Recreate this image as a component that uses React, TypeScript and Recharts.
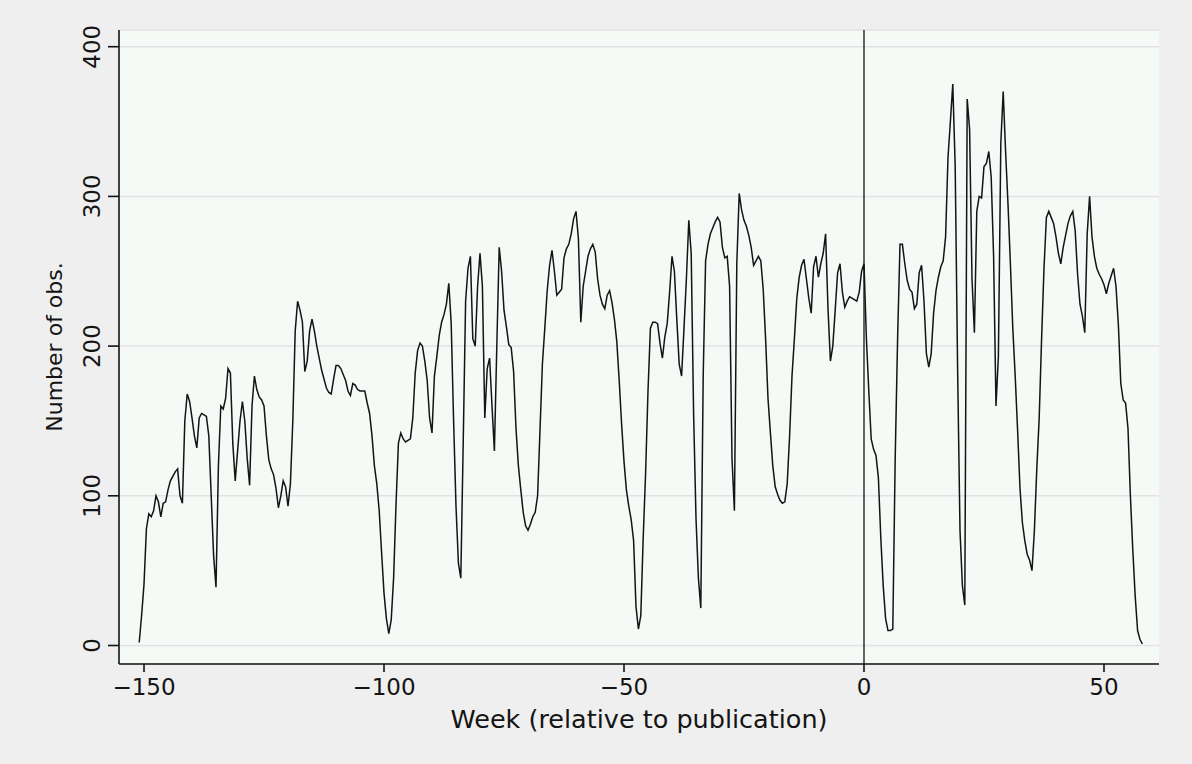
import React from 'react';
import { LineChart, Line, XAxis, YAxis, CartesianGrid, ReferenceLine } from 'recharts';

// Weeks relative to publication: first observed week and spacing of observations
const FIRST_WEEK = -151;
const WEEK_STEP = 0.5;

const obsCounts: number[] = [
  2, 20, 41, 78, 88, 86, 90, 100, 96, 86,
  95, 96, 104, 110, 113, 116, 118, 100, 95, 150,
  168, 163, 152, 140, 132, 152, 155, 154, 153, 140,
  100, 60, 39, 120, 160, 158, 165, 185, 182, 135,
  110, 130, 150, 163, 150, 125, 107, 160, 180, 171,
  166, 164, 160, 140, 124, 118, 114, 105, 92, 100,
  110, 106, 93, 108, 150, 210, 230, 224, 216, 183,
  190, 210, 218, 210, 200, 192, 184, 178, 172, 169,
  168, 178, 187, 187, 185, 181, 177, 170, 167, 175,
  174, 171, 170, 170, 170, 162, 155, 140, 120, 108,
  90, 62, 35, 18, 8, 17, 45, 94, 135, 142,
  138, 136, 137, 138, 152, 182, 197, 202, 200, 190,
  177, 152, 142, 180, 193, 207, 216, 221, 228, 242,
  215, 150, 93, 55, 45, 135, 230, 252, 260, 205,
  200, 240, 262, 240, 152, 185, 192, 160, 130, 200,
  266, 250, 224, 213, 201, 199, 183, 145, 120, 104,
  89, 80, 77, 81, 86, 89, 100, 144, 188, 212,
  237, 254, 264, 250, 234, 236, 238, 259, 265, 268,
  275, 285, 290, 272, 216, 240, 250, 260, 265, 268,
  263, 245, 234, 228, 225, 234, 237, 229, 218, 203,
  177, 148, 123, 104, 93, 84, 70, 26, 11, 20,
  72, 115, 170, 212, 216, 216, 215, 202, 192, 206,
  215, 236, 260, 250, 218, 188, 180, 212, 245, 284,
  262, 155, 85, 45, 25, 180, 257, 268, 275, 279,
  283, 286, 283, 266, 259, 260, 240, 125, 90, 255,
  302, 291, 284, 280, 274, 266, 254, 257, 260, 257,
  238, 205, 165, 142, 120, 106, 101, 97, 95, 96,
  108, 140, 180, 205, 232, 246, 254, 258, 245, 232,
  222, 253, 260, 246, 255, 262, 275, 225, 190, 200,
  224, 249, 255, 236, 226, 230, 233, 232, 231, 230,
  236, 250, 255, 205, 170, 138, 131, 127, 112, 72,
  40, 18, 10, 10, 11, 125, 205, 268, 268, 255,
  244, 238, 236, 225, 228, 249, 254, 230, 195, 186,
  195, 222, 237, 246, 253, 257, 273, 326, 350, 375,
  320, 185, 77, 40, 27, 365, 345, 245, 209, 290,
  300, 299, 320, 322, 330, 313, 260, 160, 193, 335,
  370, 330, 295, 255, 212, 180, 144, 105, 82, 70,
  61, 57, 50, 77, 118, 152, 205, 252, 286, 290,
  286, 282, 273, 262, 255, 266, 274, 282, 287, 290,
  277, 248, 228, 220, 209, 275, 300, 273, 260, 252,
  248, 245, 241, 235, 242, 247, 252, 240, 214, 175,
  164, 162, 145, 100, 64, 33, 10, 4, 1,
];

const xTicks = [-150, -100, -50, 0, 50];
const yTicks = [0, 100, 200, 300, 400];
const xTitle = 'Week (relative to publication)';
const yTitle = 'Number of obs.';
const publicationWeek = 0;

const data = obsCounts.map((v, i) => ({ week: FIRST_WEEK + i * WEEK_STEP, obs: v }));

const FONT = '"DejaVu Sans", "Liberation Sans", sans-serif';
const INK = '#141414';

const fmt = (v: number) => (v < 0 ? '\u2212' + Math.abs(v) : String(v));

function XTick(props: any) {
  const { x, payload } = props;
  return (
    <text x={x} y={695} textAnchor="middle" fontFamily={FONT} fontSize={23} fill={INK}>
      {fmt(payload.value)}
    </text>
  );
}

function YTick(props: any) {
  const { y, payload } = props;
  const bx = 100;
  return (
    <text
      x={bx}
      y={y}
      transform={`rotate(-90 ${bx} ${y})`}
      textAnchor="middle"
      fontFamily={FONT}
      fontSize={23}
      fill={INK}
    >
      {fmt(payload.value)}
    </text>
  );
}

export default function App() {
  const W = 1192;
  const H = 764;
  return (
    <div style={{ position: 'absolute', left: 0, top: 0, width: W, height: H, background: '#efefef' }}>
      <LineChart
        width={W}
        height={H}
        data={data}
        margin={{ top: 30, right: 33, bottom: 40, left: 59 }}
      >
        <CartesianGrid
          horizontal={true}
          vertical={false}
          stroke="#e2e2e2"
          strokeWidth={1.5}
          fill="#f5faf7"
          fillOpacity={1}
        />
        <XAxis
          dataKey="week"
          type="number"
          domain={[-155.21, 61.46]}
          allowDataOverflow
          ticks={xTicks}
          interval={0}
          height={60}
          tickSize={8}
          axisLine={{ stroke: INK, strokeWidth: 1.6 }}
          tickLine={{ stroke: INK, strokeWidth: 1.6 }}
          tick={<XTick />}
        />
        <YAxis
          type="number"
          domain={[-12.36, 411.16]}
          allowDataOverflow
          ticks={yTicks}
          interval={0}
          width={60}
          tickSize={11}
          axisLine={{ stroke: INK, strokeWidth: 1.6 }}
          tickLine={{ stroke: INK, strokeWidth: 1.6 }}
          tick={<YTick />}
        />
        <ReferenceLine x={publicationWeek} stroke={INK} strokeWidth={1.3} />
        <Line
          type="linear"
          dataKey="obs"
          stroke={INK}
          strokeWidth={1.5}
          dot={false}
          activeDot={false}
          isAnimationActive={false}
        />
      </LineChart>
      <svg
        width={W}
        height={H}
        style={{ position: 'absolute', left: 0, top: 0, pointerEvents: 'none' }}
      >
        <text x={639} y={728} textAnchor="middle" fontFamily={FONT} fontSize={25.5} fill={INK}>
          {xTitle}
        </text>
        <text
          x={62}
          y={347}
          transform="rotate(-90 62 347)"
          textAnchor="middle"
          fontFamily={FONT}
          fontSize={22}
          fill={INK}
        >
          {yTitle}
        </text>
      </svg>
    </div>
  );
}
